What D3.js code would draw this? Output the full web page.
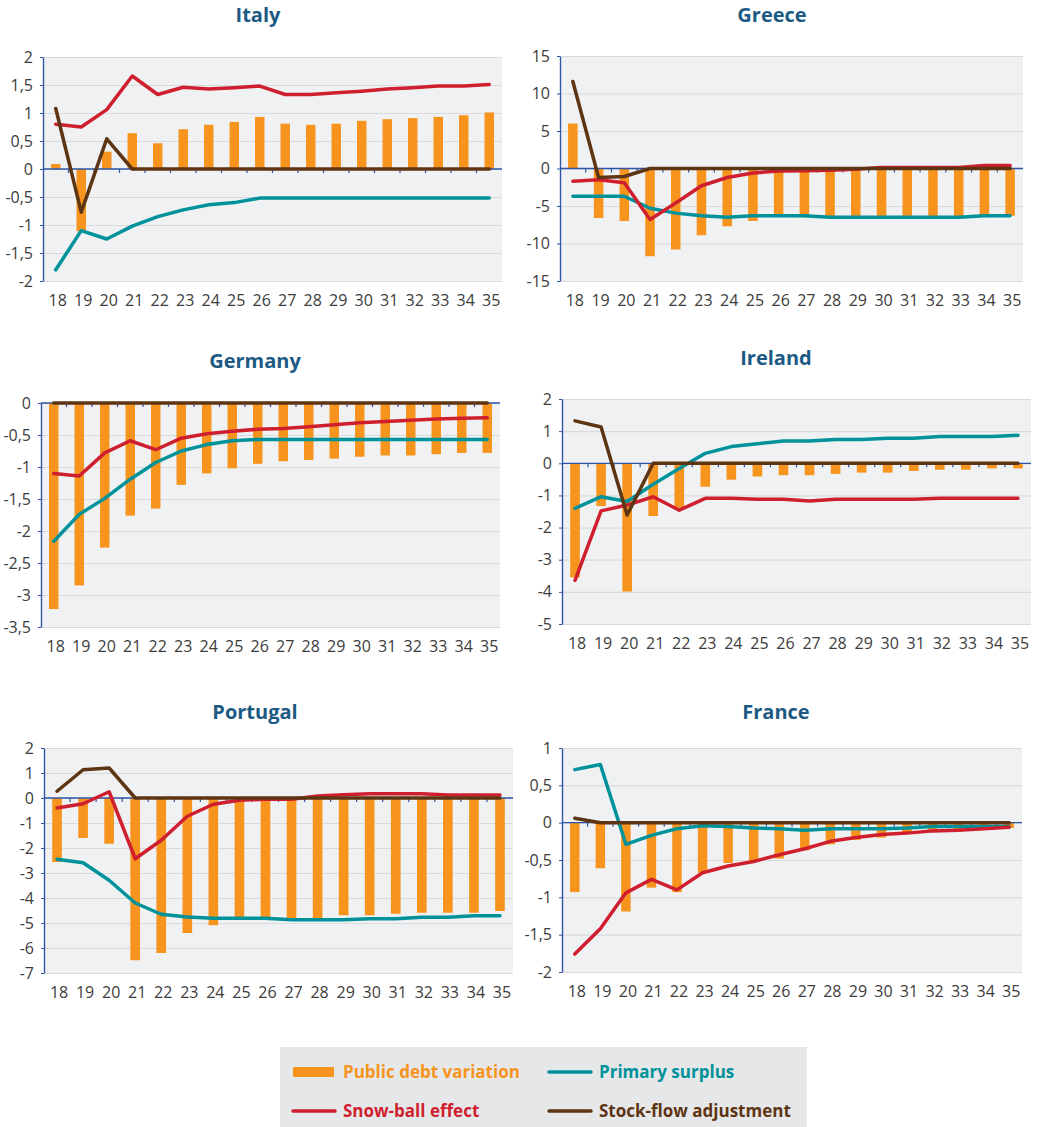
<!DOCTYPE html>
<html>
<head>
<meta charset="utf-8">
<script src="https://cdn.jsdelivr.net/npm/d3@7"></script>
<style>
  body { margin: 0; background: #fff; }
  svg { display: block; font-family: "Open Sans", sans-serif; }
</style>
</head>
<body>
<div id="chart"></div>
<script>
// Years on the x axis (20xx)
const years = ["18","19","20","21","22","23","24","25","26","27","28","29","30","31","32","33","34","35"];

// Italy
const italyDebt    = [0.09,-1.11,0.31,0.64,0.46,0.71,0.79,0.84,0.93,0.81,0.79,0.81,0.86,0.89,0.91,0.93,0.96,1.01];
const italyPrimary = [-1.80,-1.10,-1.25,-1.02,-0.85,-0.73,-0.64,-0.60,-0.52,-0.52,-0.52,-0.52,-0.52,-0.52,-0.52,-0.52,-0.52,-0.52];
const italySnow    = [0.80,0.75,1.06,1.66,1.33,1.46,1.43,1.45,1.48,1.33,1.33,1.36,1.39,1.43,1.45,1.48,1.48,1.51];
const italySfa     = [1.08,-0.77,0.54,0,0,0,0,0,0,0,0,0,0,0,0,0,0,0];
const italyTicks   = [-2,-1.5,-1,-0.5,0,0.5,1,1.5,2];

// Greece
const greeceDebt    = [6.0,-6.6,-7.0,-11.7,-10.8,-8.9,-7.7,-7.0,-6.3,-6.5,-6.4,-6.4,-6.4,-6.4,-6.4,-6.4,-6.3,-6.3];
const greecePrimary = [-3.7,-3.7,-3.7,-5.3,-5.95,-6.3,-6.5,-6.3,-6.3,-6.3,-6.5,-6.5,-6.5,-6.5,-6.5,-6.5,-6.3,-6.3];
const greeceSnow    = [-1.7,-1.5,-1.9,-6.8,-4.6,-2.3,-1.2,-0.6,-0.35,-0.3,-0.25,-0.1,0.15,0.15,0.15,0.15,0.4,0.4];
const greeceSfa     = [11.6,-1.2,-1.07,0,0,0,0,0,0,0,0,0,0,0,0,0,0,0];
const greeceTicks   = [-15,-10,-5,0,5,10,15];

// Germany
const germanyDebt    = [-3.22,-2.85,-2.26,-1.76,-1.65,-1.28,-1.10,-1.02,-0.95,-0.91,-0.89,-0.87,-0.84,-0.82,-0.82,-0.80,-0.78,-0.78];
const germanyPrimary = [-2.16,-1.74,-1.49,-1.19,-0.93,-0.75,-0.65,-0.59,-0.57,-0.57,-0.57,-0.57,-0.57,-0.57,-0.57,-0.57,-0.57,-0.57];
const germanySnow    = [-1.10,-1.14,-0.78,-0.59,-0.73,-0.55,-0.48,-0.44,-0.41,-0.40,-0.37,-0.34,-0.31,-0.29,-0.27,-0.25,-0.24,-0.23];
const germanySfa     = [0,0,0,0,0,0,0,0,0,0,0,0,0,0,0,0,0,0];
const germanyTicks   = [-3.5,-3,-2.5,-2,-1.5,-1,-0.5,0];

// Ireland
const irelandDebt    = [-3.55,-1.33,-3.99,-1.64,-1.38,-0.73,-0.51,-0.41,-0.37,-0.37,-0.33,-0.29,-0.29,-0.24,-0.20,-0.20,-0.16,-0.16];
const irelandPrimary = [-1.40,-1.04,-1.19,-0.65,-0.16,0.31,0.52,0.61,0.69,0.69,0.74,0.74,0.78,0.78,0.83,0.83,0.83,0.87];
const irelandSnow    = [-3.64,-1.48,-1.30,-1.04,-1.46,-1.09,-1.09,-1.12,-1.12,-1.17,-1.12,-1.12,-1.12,-1.12,-1.09,-1.09,-1.09,-1.09];
const irelandSfa     = [1.32,1.13,-1.61,0,0,0,0,0,0,0,0,0,0,0,0,0,0,0];
const irelandTicks   = [-5,-4,-3,-2,-1,0,1,2];

// Portugal
const portugalDebt    = [-2.56,-1.60,-1.83,-6.49,-6.2,-5.4,-5.09,-4.76,-4.76,-4.83,-4.83,-4.69,-4.69,-4.63,-4.59,-4.59,-4.59,-4.52];
const portugalPrimary = [-2.45,-2.59,-3.29,-4.2,-4.65,-4.76,-4.81,-4.81,-4.81,-4.87,-4.87,-4.87,-4.83,-4.83,-4.77,-4.77,-4.71,-4.71];
const portugalSnow    = [-0.40,-0.23,0.25,-2.43,-1.69,-0.73,-0.25,-0.09,-0.05,-0.05,0.08,0.13,0.17,0.17,0.17,0.12,0.12,0.12];
const portugalSfa     = [0.27,1.13,1.2,0,0,0,0,0,0,0,0,0,0,0,0,0,0,0];
const portugalTicks   = [-7,-6,-5,-4,-3,-2,-1,0,1,2];

// France
const franceDebt    = [-0.93,-0.61,-1.19,-0.87,-0.93,-0.67,-0.54,-0.51,-0.48,-0.37,-0.29,-0.23,-0.20,-0.13,-0.10,-0.09,-0.08,-0.07];
const francePrimary = [0.71,0.78,-0.29,-0.17,-0.08,-0.04,-0.05,-0.07,-0.08,-0.10,-0.08,-0.08,-0.08,-0.07,-0.05,-0.05,-0.05,-0.05];
const franceSnow    = [-1.76,-1.42,-0.94,-0.76,-0.90,-0.67,-0.58,-0.52,-0.43,-0.35,-0.25,-0.20,-0.16,-0.14,-0.11,-0.10,-0.08,-0.06];
const franceSfa     = [0.06,0,0,0,0,0,0,0,0,0,0,0,0,0,0,0,0,0];
const franceTicks   = [-2,-1.5,-1,-0.5,0,0.5,1];

const colors = {
  debt: "#f7941d",
  primary: "#00929b",
  snow: "#cf1f2e",
  sfa: "#5e3512",
  axis: "#2e56a6",
  title: "#1c5a84",
  grid: "#d9dadd",
  bg: "#f0f1f3",
  text: "#3c3c3c"
};

const panels = [
  {name: "Italy",    debt: italyDebt,    primary: italyPrimary,    snow: italySnow,    sfa: italySfa,    ticks: italyTicks,    x: 43,  y: 57,  w: 459, h: 224, tx: 258, ty: 22},
  {name: "Greece",   debt: greeceDebt,   primary: greecePrimary,   snow: greeceSnow,   sfa: greeceSfa,   ticks: greeceTicks,   x: 560, y: 56,  w: 463, h: 225, tx: 772, ty: 22},
  {name: "Germany",  debt: germanyDebt,  primary: germanyPrimary,  snow: germanySnow,  sfa: germanySfa,  ticks: germanyTicks,  x: 41,  y: 403, w: 459, h: 224, tx: 255, ty: 368},
  {name: "Ireland",  debt: irelandDebt,  primary: irelandPrimary,  snow: irelandSnow,  sfa: irelandSfa,  ticks: irelandTicks,  x: 562, y: 399, w: 469, h: 225, tx: 776, ty: 365},
  {name: "Portugal", debt: portugalDebt, primary: portugalPrimary, snow: portugalSnow, sfa: portugalSfa, ticks: portugalTicks, x: 44,  y: 748, w: 469, h: 225, tx: 255, ty: 719},
  {name: "France",   debt: franceDebt,   primary: francePrimary,   snow: franceSnow,   sfa: franceSfa,   ticks: franceTicks,   x: 562, y: 748, w: 460, h: 224, tx: 776, ty: 719}
];

// comma as decimal separator
const locale = d3.formatLocale({decimal: ",", thousands: ".", grouping: [3], currency: ["", "€"], minus: "-"});
const fmt = locale.format("~g");

const svg = d3.select("#chart").append("svg")
  .attr("width", 1040)
  .attr("height", 1127);

panels.forEach(p => drawPanel(p));
drawLegend();

function drawPanel(p) {
  const g = svg.append("g").attr("transform", `translate(${p.x},${p.y})`);

  const x = d3.scaleBand().domain(years).range([0, p.w]).padding(0);
  const y = d3.scaleLinear().domain(d3.extent(p.ticks)).range([p.h, 0]);

  // title
  svg.append("text")
    .attr("x", p.tx)
    .attr("y", p.ty)
    .attr("text-anchor", "middle")
    .style("font-size", "20px")
    .style("font-weight", "700")
    .attr("fill", colors.title)
    .text(p.name);

  // background
  g.append("rect")
    .attr("width", p.w)
    .attr("height", p.h)
    .attr("fill", colors.bg);

  // gridlines
  g.append("g")
    .call(d3.axisLeft(y).tickValues(p.ticks).tickSize(-p.w).tickFormat(""))
    .call(a => a.select(".domain").remove())
    .call(a => a.selectAll("line").attr("stroke", colors.grid).attr("stroke-width", 1.2));

  // bars
  const bw = x.bandwidth() * 0.37;
  g.selectAll("rect.bar")
    .data(p.debt)
    .enter()
    .append("rect")
    .attr("class", "bar")
    .attr("x", (d, i) => x(years[i]) + (x.bandwidth() - bw) / 2)
    .attr("width", bw)
    .attr("y", d => y(Math.max(0, d)))
    .attr("height", d => Math.abs(y(d) - y(0)))
    .attr("fill", colors.debt);

  // zero line with small ticks at band edges
  g.append("line")
    .attr("x1", 0).attr("x2", p.w)
    .attr("y1", y(0)).attr("y2", y(0))
    .attr("stroke", colors.axis)
    .attr("stroke-width", 1.3);
  g.selectAll("line.zt")
    .data(years.slice(1))
    .enter()
    .append("line")
    .attr("class", "zt")
    .attr("x1", d => x(d)).attr("x2", d => x(d))
    .attr("y1", y(0)).attr("y2", y(0) + 4)
    .attr("stroke", colors.axis)
    .attr("stroke-width", 1.2);

  // y axis
  g.append("g")
    .call(d3.axisLeft(y).tickValues(p.ticks).tickSize(3).tickSizeOuter(0).tickPadding(7).tickFormat(fmt))
    .call(a => a.select(".domain").attr("stroke", colors.axis).attr("stroke-width", 1.4))
    .call(a => a.selectAll("line").attr("stroke", colors.axis))
    .call(a => a.selectAll("text")
      .attr("fill", colors.text)
      .style("font-size", "16px")
      .style("font-family", "'Open Sans', sans-serif"));

  // x labels
  g.append("g")
    .attr("transform", `translate(2,${p.h})`)
    .call(d3.axisBottom(x).tickSize(0).tickPadding(14))
    .call(a => a.select(".domain").remove())
    .call(a => a.selectAll("text")
      .attr("fill", colors.text)
      .style("font-size", "16px")
      .style("font-family", "'Open Sans', sans-serif"));

  // lines
  const line = d3.line()
    .x((d, i) => x(years[i]) + x.bandwidth() / 2)
    .y(d => y(d));

  [["primary", p.primary], ["snow", p.snow], ["sfa", p.sfa]].forEach(([k, vals]) => {
    g.append("path")
      .datum(vals)
      .attr("d", line)
      .attr("fill", "none")
      .attr("stroke", colors[k])
      .attr("stroke-width", 3.5)
      .attr("stroke-linejoin", "round")
      .attr("stroke-linecap", "round");
  });
}

function drawLegend() {
  const lg = svg.append("g");
  lg.append("rect")
    .attr("x", 280).attr("y", 1047)
    .attr("width", 527).attr("height", 90)
    .attr("fill", "#e6e7e8");

  const items = [
    {key: "debt",    label: "Public debt variation", x: 293, y: 1072, bar: true},
    {key: "primary", label: "Primary surplus",       x: 549, y: 1072},
    {key: "snow",    label: "Snow-ball effect",      x: 293, y: 1111},
    {key: "sfa",     label: "Stock-flow adjustment", x: 549, y: 1111}
  ];

  items.forEach(it => {
    if (it.bar) {
      lg.append("rect")
        .attr("x", it.x).attr("y", it.y - 5)
        .attr("width", 41).attr("height", 10)
        .attr("fill", colors[it.key]);
    } else {
      lg.append("line")
        .attr("x1", it.x).attr("x2", it.x + 42)
        .attr("y1", it.y).attr("y2", it.y)
        .attr("stroke", colors[it.key])
        .attr("stroke-width", 3.5)
        .attr("stroke-linecap", "round");
    }
    lg.append("text")
      .attr("x", it.x + 50)
      .attr("y", it.y + 6)
      .attr("fill", colors[it.key])
      .style("font-size", "17px")
      .style("font-weight", "700")
      .text(it.label);
  });
}
</script>
</body>
</html>
